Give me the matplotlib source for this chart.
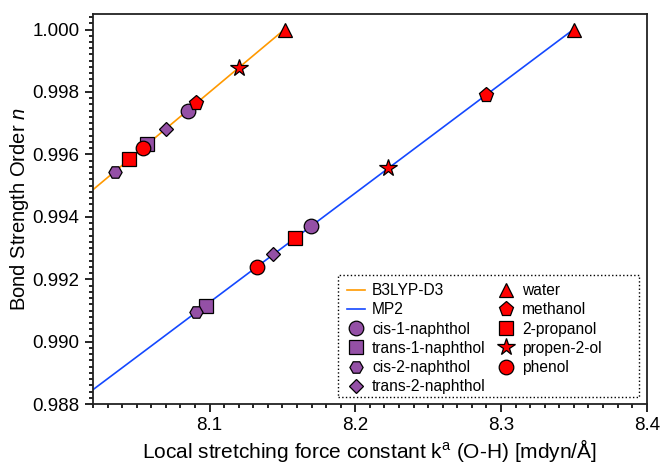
# -*- coding: utf-8 -*-

# Bond strength order vs local stretching force constant (B3LYP-D3 / MP2)

import numpy as np
import matplotlib
matplotlib.use("Agg")
import matplotlib.pyplot as plt
from matplotlib.patches import Rectangle

plt.rcParams["font.family"] = ["Liberation Sans", "DejaVu Sans"]
plt.rcParams["mathtext.fontset"] = "custom"
plt.rcParams["mathtext.rm"] = "Liberation Sans"
plt.rcParams["mathtext.it"] = "Liberation Sans:italic"

# molecules (plot order = legend order)
molecules = ["cis-1-naphthol", "trans-1-naphthol", "cis-2-naphthol", "trans-2-naphthol",
             "water", "methanol", "2-propanol", "propen-2-ol", "phenol"]

# B3LYP-D3 : ka(O-H) [mdyn/A], bond strength order n
b3lyp_k = [8.085, 8.057, 8.035, 8.070, 8.1515, 8.091, 8.045, 8.120, 8.054]
b3lyp_n = [0.99740, 0.99632, 0.99545, 0.99682, 1.000, 0.99765, 0.99585, 0.99878, 0.99619]

# MP2
mp2_k = [8.1697, 8.0975, 8.0908, 8.1437, 8.350, 8.2897, 8.1586, 8.2221, 8.1324]
mp2_n = [0.99372, 0.99116, 0.99094, 0.99280, 1.000, 0.99790, 0.99333, 0.99555, 0.99238]

purple = "#9450a6"
red = "#ff0000"
styles = {
    "cis-1-naphthol": ("o", purple, 10.5),
    "trans-1-naphthol": ("s", purple, 10.5),
    "cis-2-naphthol": ("H", purple, 9.5),
    "trans-2-naphthol": ("D", purple, 6.8),
    "water": ("^", red, 10.5),
    "methanol": ("p", red, 11),
    "2-propanol": ("s", red, 10.5),
    "propen-2-ol": ("*", red, 13),
    "phenol": ("o", red, 10.5),
}


def fit_line(ax, k, n, color, label):
    # linear fit drawn from left edge up to the largest k
    a, b = np.polyfit(k, n, 1)
    xs = np.array([8.0, max(k)])
    ax.plot(xs, a * xs + b, color=color, lw=1.2, label=label, zorder=1)


fig = plt.figure(figsize=(6.62, 4.63), dpi=100)
ax = fig.add_axes([0.140, 0.127, 0.837, 0.843])

fit_line(ax, b3lyp_k, b3lyp_n, "#ff9900", "B3LYP-D3")
fit_line(ax, mp2_k, mp2_n, "#1448ff", "MP2")

for i, name in enumerate(molecules):
    m, c, ms = styles[name]
    ax.plot([b3lyp_k[i], mp2_k[i]], [b3lyp_n[i], mp2_n[i]], linestyle="none",
            marker=m, markersize=ms, markerfacecolor=c, markeredgecolor="black",
            markeredgewidth=0.9, label=name, zorder=3)

ax.set_xlim(8.0198, 8.4)
ax.set_ylim(0.988, 1.0005)
ax.set_xticks([8.1, 8.2, 8.3, 8.4])
ax.set_xticks(np.arange(8.02, 8.4, 0.01), minor=True)
ax.set_yticks(np.arange(0.988, 1.0001, 0.002))
ax.set_yticks(np.arange(0.988, 1.0005, 0.0002), minor=True)
ax.set_xticklabels(["8.1", "8.2", "8.3", "8.4"])
ax.set_yticklabels(["%.3f" % v for v in np.arange(0.988, 1.0001, 0.002)])

ax.tick_params(which="both", direction="out", top=False, right=False,
               labelsize=13.5, width=1.2, color="black")
ax.tick_params(which="major", length=6)
ax.tick_params(which="minor", length=3)
for s in ax.spines.values():
    s.set_linewidth(1.3)
    s.set_color("#222222")

ax.set_xlabel(r"Local stretching force constant k$^{\mathrm{a}}$ (O-H) [mdyn/Å]",
              fontsize=15, labelpad=2)
ax.set_ylabel(r"Bond Strength Order $n$", fontsize=14.5, labelpad=1)

# legend without its own frame, dotted box drawn separately
leg = ax.legend(ncol=2, loc="upper left", bbox_to_anchor=(0.4582, 0.310),
                borderaxespad=0, fontsize=11.2, frameon=False,
                handlelength=1.2, handletextpad=0.43, columnspacing=0.69,
                labelspacing=0.27, borderpad=0)
ax.add_patch(Rectangle((0.4425, 0.018), 0.5431, 0.313, transform=ax.transAxes,
                       fill=False, edgecolor="black", linestyle=":", lw=1.0,
                       zorder=4))

fig.savefig("out.png", dpi=100)
